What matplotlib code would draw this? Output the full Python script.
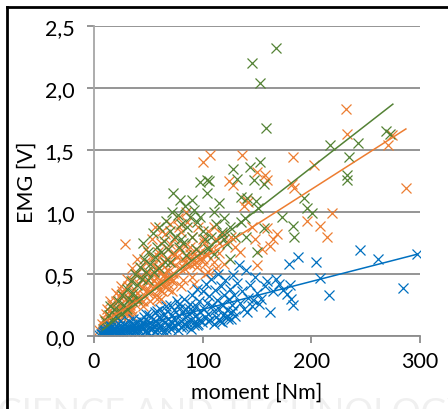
import matplotlib
matplotlib.use("Agg")
import matplotlib.pyplot as plt
from matplotlib.lines import Line2D
from matplotlib.ticker import FuncFormatter, MultipleLocator

plt.rcParams['font.family'] = ['Lato', 'DejaVu Sans']

# blue series (moment [Nm], EMG [V])
blue_x = [6, 8, 9, 10, 11, 12, 13, 14, 15, 16, 17, 18, 19, 20, 21, 22, 23, 24, 25, 26,
          27, 28, 29, 30, 31, 32, 33, 34, 35, 36, 37, 38, 39, 40, 41, 42, 43, 44, 45, 46,
          47, 48, 49, 50, 51, 52, 53, 54, 55, 56, 57, 58, 59, 60, 61, 62, 63, 64, 65, 66,
          67, 68, 69, 70, 71, 72, 73, 74, 75, 76, 77, 78, 79, 80, 81, 82, 83, 84, 85, 86,
          87, 88, 89, 90, 91, 92, 93, 94, 95, 96, 97, 98, 99, 100, 101, 102, 103, 104, 105, 106,
          107, 108, 109, 110, 111, 112, 113, 114, 115, 116, 117, 118, 119, 120, 121, 122, 123, 124, 125, 126,
          127, 128, 129, 130, 132, 133, 134, 136, 138, 140, 140.5, 142, 143.6, 145, 146.6, 148, 150, 152, 154, 157,
          159, 162, 165, 167.5, 170, 174, 177.6, 179, 180, 181, 183, 188, 204, 208, 216, 245, 261, 284, 297.5,
          5, 7, 9, 12, 14, 17, 19, 22, 25, 27, 30, 33, 35, 38, 41, 44, 47, 50, 53, 56,
          59, 62, 65, 68, 71, 74, 77, 80, 83, 86, 89, 92, 95, 98, 15, 24, 36, 48, 58, 66,
          78, 88, 96, 105, 110, 115, 118, 122, 126, 128]
blue_y = [0.02, 0.03, 0.01, 0.05, 0.02, 0.04, 0.06, 0.03, 0.02, 0.07, 0.04, 0.05, 0.03, 0.08, 0.05, 0.02, 0.06, 0.09, 0.04, 0.07,
          0.03, 0.10, 0.06, 0.05, 0.08, 0.12, 0.04, 0.07, 0.10, 0.06, 0.09, 0.03, 0.11, 0.07, 0.05, 0.13, 0.09, 0.06, 0.11, 0.15,
          0.08, 0.04, 0.12, 0.09, 0.17, 0.06, 0.10, 0.14, 0.08, 0.19, 0.12, 0.05, 0.10, 0.15, 0.22, 0.08, 0.13, 0.17, 0.11, 0.06,
          0.20, 0.14, 0.09, 0.25, 0.12, 0.17, 0.07, 0.21, 0.13, 0.28, 0.10, 0.16, 0.23, 0.12, 0.19, 0.08, 0.30, 0.15, 0.22, 0.11,
          0.18, 0.26, 0.13, 0.33, 0.20, 0.09, 0.16, 0.24, 0.38, 0.14, 0.28, 0.19, 0.11, 0.36, 0.22, 0.15, 0.42, 0.27, 0.18, 0.32,
          0.13, 0.46, 0.24, 0.20, 0.37, 0.15, 0.29, 0.50, 0.22, 0.12, 0.40, 0.26, 0.17, 0.33, 0.45, 0.21, 0.14, 0.30, 0.38, 0.19,
          0.25, 0.49, 0.33, 0.16, 0.43, 0.57, 0.27, 0.36, 0.22, 0.53, 0.19, 0.31, 0.41, 0.24, 0.29, 0.48, 0.35, 0.26, 0.30, 0.40,
          0.44, 0.19, 0.36, 0.46, 0.42, 0.37, 0.34, 0.58, 0.41, 0.30, 0.25, 0.64, 0.60, 0.47, 0.33, 0.69, 0.62, 0.39, 0.66,
          0.01, 0.02, 0.04, 0.01, 0.05, 0.02, 0.06, 0.03, 0.02, 0.05, 0.03, 0.06, 0.02, 0.05, 0.03, 0.08, 0.04, 0.03, 0.06, 0.04,
          0.07, 0.05, 0.03, 0.08, 0.06, 0.09, 0.05, 0.07, 0.10, 0.08, 0.06, 0.11, 0.09, 0.13, 0.09, 0.12, 0.14, 0.18, 0.20, 0.24,
          0.26, 0.22, 0.10, 0.12, 0.10, 0.13, 0.11, 0.16, 0.14, 0.20]

# orange series
orange_x = [5, 7, 8, 9, 10, 11, 12, 13, 14, 15, 16, 17, 18, 19, 20, 21, 22, 23, 24, 25,
            26, 27, 28.5, 29, 30, 31, 32, 33, 34, 35, 36, 37, 38, 39, 40, 41, 42, 43, 44, 45,
            46, 47, 48, 49, 50, 51, 52, 53, 54, 55, 56, 57, 58, 59, 60, 61, 62, 63, 64, 65,
            66, 67, 68, 69, 70, 71, 72, 73, 74, 75, 76, 77, 78, 79, 80, 82, 84, 86, 88, 90,
            92, 94, 96, 98, 100, 101, 103, 105, 107, 108, 110, 112, 115, 118, 120, 124.5, 126, 128, 130, 134,
            136, 138, 140, 142, 145, 148, 150, 150, 155, 157, 159, 159, 162, 165, 168, 182, 183, 184, 196, 202,
            208, 214, 219, 231.6, 233, 271, 274, 287,
            55, 58, 60, 62, 64, 66, 52, 57, 63, 68, 70, 72, 28, 30, 32, 26, 34,
            84, 86, 88, 90, 92, 94, 96, 98, 100, 102, 104,
            12, 15, 18, 20, 22, 25, 28, 30, 33, 35, 38, 40, 42, 45, 48, 50, 53, 55, 58, 60,
            63, 65, 68, 70, 73, 75, 78, 80, 83, 85, 88, 90, 95, 100, 105, 110, 115, 35, 45, 52,
            62, 72, 82, 92, 102, 112]
orange_y = [0.05, 0.10, 0.04, 0.14, 0.08, 0.18, 0.12, 0.06, 0.20, 0.15, 0.10, 0.25, 0.18, 0.12, 0.28, 0.21, 0.15, 0.32, 0.19, 0.26,
            0.36, 0.22, 0.74, 0.30, 0.18, 0.40, 0.27, 0.34, 0.22, 0.45, 0.31, 0.38, 0.26, 0.50, 0.35, 0.42, 0.29, 0.55, 0.39, 0.47,
            0.33, 0.60, 0.44, 0.37, 0.52, 0.48, 0.41, 0.63, 0.50, 0.45, 0.88, 0.55, 0.48, 0.68, 0.52, 0.43, 0.75, 0.58, 0.49, 0.82,
            0.62, 0.53, 0.70, 0.46, 0.90, 0.60, 0.66, 0.51, 0.78, 0.57, 0.64, 0.95, 0.70, 0.55, 0.84, 0.62, 0.73, 0.92, 0.66, 0.80,
            0.58, 0.70, 0.88, 0.62, 1.40, 0.75, 0.66, 0.85, 1.46, 0.70, 0.60, 0.78, 0.67, 0.82, 0.58, 1.25, 0.80, 1.22, 0.72, 0.68,
            1.46, 1.05, 1.10, 1.08, 0.88, 0.78, 0.57, 1.32, 0.70, 1.30, 1.26, 0.87, 0.73, 0.78, 0.82, 1.23, 1.44, 1.19, 0.93, 1.38,
            0.89, 0.80, 0.99, 1.83, 1.63, 1.54, 1.62, 1.19,
            0.40, 0.42, 0.38, 0.44, 0.40, 0.46, 0.36, 0.33, 0.36, 0.42, 0.48, 0.44, 0.19, 0.21, 0.17, 0.15, 0.20,
            0.60, 0.64, 0.58, 0.62, 0.66, 0.60, 0.64, 0.68, 0.62, 0.58, 0.66,
            0.22, 0.28, 0.14, 0.35, 0.24, 0.40, 0.32, 0.46, 0.25, 0.55, 0.30, 0.62, 0.48, 0.28, 0.70, 0.35, 0.78, 0.58, 0.30, 0.64,
            0.85, 0.50, 0.38, 0.74, 0.45, 0.66, 0.88, 0.40, 0.55, 1.00, 0.72, 0.48, 0.56, 0.78, 0.52, 0.88, 0.75, 0.16, 0.24, 0.28,
            0.30, 0.36, 0.45, 0.42, 0.50, 0.55]

# green series
green_x = [8, 10, 12, 14, 16, 18, 20, 22, 24, 26, 28, 30, 32, 34, 36, 38, 40, 42, 44, 46,
           48, 50, 52, 54, 56, 58, 60, 62, 64, 66, 68, 70, 73, 75, 77, 79, 80, 82, 84, 86,
           88, 90, 92, 94, 95, 97.5, 100, 102, 104, 104, 106, 108, 110, 112, 115, 118, 120, 122, 125, 128,
           130, 132, 135, 139, 140.5, 144, 147, 149, 150, 151, 153, 156, 156, 158, 145.7, 152.8, 167.5, 173, 183, 184,
           193, 196, 201, 217, 232.5, 232.5, 235, 243, 269, 272,
           15, 25, 35, 45, 55, 65, 72, 78, 85, 90, 98, 105, 110, 120, 125, 135, 140, 60, 70, 80,
           50, 40, 30]
green_y = [0.06, 0.12, 0.09, 0.17, 0.13, 0.22, 0.16, 0.28, 0.20, 0.33, 0.25, 0.38, 0.30, 0.44, 0.35, 0.50, 0.41, 0.56, 0.46, 0.62,
           0.52, 0.68, 0.58, 0.83, 0.64, 0.72, 0.88, 0.68, 0.77, 0.93, 0.70, 0.85, 1.15, 0.80, 0.98, 1.10, 0.90, 0.75, 1.05, 0.88,
           0.96, 0.80, 1.02, 0.70, 0.92, 1.24, 0.85, 0.78, 1.26, 1.15, 1.25, 0.80, 0.66, 0.90, 1.07, 0.84, 0.78, 0.74, 0.88, 1.35,
           0.80, 1.27, 0.92, 0.95, 1.11, 1.36, 1.26, 1.09, 0.68, 1.03, 1.40, 1.23, 0.87, 1.68, 2.20, 2.04, 2.32, 0.96, 0.89, 0.80,
           1.11, 1.03, 0.99, 1.54, 1.30, 1.26, 1.44, 1.56, 1.65, 1.63,
           0.24, 0.18, 0.28, 0.75, 0.52, 0.60, 1.00, 0.72, 0.65, 1.10, 0.96, 0.70, 1.00, 0.95, 0.62, 1.12, 0.80, 0.55, 0.60, 0.78,
           0.45, 0.30, 0.22]

# linear trend lines, end points
blue_trend_x = [5, 297.5]
blue_trend_y = [0.00, 0.66]
orange_trend_x = [5, 287]
orange_trend_y = [0.09, 1.67]
green_trend_x = [8, 275]
green_trend_y = [0.05, 1.87]

c_blue = '#0070C0'
c_orange = '#ED7D31'
c_green = '#548235'
grid_c = '#8C8C8C'

fig = plt.figure(figsize=(4.48, 4.10), dpi=100)
ax = fig.add_axes([0.2098, 0.178, 0.7277, 0.756])

mk = dict(marker='x', linestyle='none', markersize=7.5, markeredgewidth=0.9)
ax.plot(orange_x, orange_y, color=c_orange, **mk)
ax.plot(green_x, green_y, color=c_green, **mk)
ax.plot(blue_x, blue_y, color=c_blue, **mk)

ax.plot(orange_trend_x, orange_trend_y, color=c_orange, lw=1.1)
ax.plot(green_trend_x, green_trend_y, color=c_green, lw=1.1)
ax.plot(blue_trend_x, blue_trend_y, color=c_blue, lw=1.1)

ax.set_xlim(0, 300)
ax.set_ylim(0, 2.5)
ax.xaxis.set_major_locator(MultipleLocator(100))
ax.yaxis.set_major_locator(MultipleLocator(0.5))
ax.yaxis.set_major_formatter(FuncFormatter(lambda v, p: f"{v:.1f}".replace('.', ',')))

ax.grid(axis='y', color=grid_c, lw=1.3)
ax.set_axisbelow(True)
for s in ['top', 'right']:
    ax.spines[s].set_visible(False)
ax.spines['left'].set_color('#A6A6A6')
ax.spines['left'].set_linewidth(1.3)
ax.spines['bottom'].set_color(grid_c)
ax.spines['bottom'].set_linewidth(1.3)
ax.tick_params(axis='both', colors=grid_c, labelcolor='black', labelsize=15.5,
               length=5, width=1.3)
ax.tick_params(axis='y', pad=9)
ax.tick_params(axis='x', pad=6)

ax.set_xlabel('moment [Nm]', fontsize=15.5, va='center')
ax.set_ylabel('EMG [V]', fontsize=15.5, va='center')
ax.xaxis.set_label_coords(0.5, -0.178)
ax.yaxis.set_label_coords(-0.205, 0.5)

# page watermark and frame
fig.text(0.5, 1 - 397 / 410, 'SCIENCE AND TECHNOLOGY', ha='center', va='top',
         fontsize=26, color='#F0F0F0', zorder=-5)
fig.add_artist(Line2D([7 / 448, 1], [1 - 8 / 410, 1 - 8 / 410], color='black', lw=2))
fig.add_artist(Line2D([7 / 448, 7 / 448], [0, 1 - 8 / 410], color='black', lw=2))

fig.savefig('out.png', dpi=100)
